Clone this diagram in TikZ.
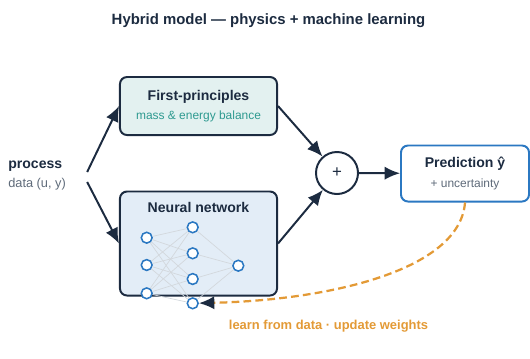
\documentclass[tikz,border=0pt]{standalone}
\usepackage{fontspec}
\setmainfont{Liberation Sans}
\usepackage{xcolor}
\usetikzlibrary{positioning, arrows.meta, calc}
\definecolor{navycolor}{HTML}{1C2B40}
\definecolor{tealtext}{HTML}{2E9A90}
\definecolor{grytext}{HTML}{5F6B7A}
\definecolor{fpfill}{HTML}{E3F1F0}
\definecolor{nnfill}{HTML}{E3EDF7}
\definecolor{neuroncolor}{HTML}{2B78C2}
\definecolor{wirecolor}{HTML}{D3D8DD}
\definecolor{learncolor}{HTML}{E39A36}
\newcommand{\subtxt}[1]{{\fontsize{8.5}{10}\selectfont #1}}

\begin{document}
\begin{tikzpicture}[
    x=0.025cm, y=-0.025cm,
    % Node styles
    boxnode/.style={
        rectangle, rounded corners=5pt,
        draw=navycolor, line width=1.4pt,
        align=center, text=navycolor,
        font=\fontsize{10}{14}\selectfont
    },
    fpnode/.style={
        boxnode, fill=fpfill,
        minimum width=3.925cm, minimum height=1.45cm
    },
    nnnode/.style={
        boxnode, fill=nnfill,
        minimum width=3.925cm, minimum height=2.6cm
    },
    prednode/.style={
        boxnode, draw=neuroncolor, fill=white,
        minimum width=3.2cm, minimum height=1.4cm
    },
    sumnode/.style={
        circle, draw=navycolor, fill=white, line width=1.4pt,
        minimum size=1.05cm, inner sep=0pt,
        font=\fontsize{12}{14}\selectfont, text=navycolor
    },
    neuron/.style={
        circle, draw=neuroncolor, fill=white, line width=1.1pt,
        minimum size=0.27cm, inner sep=0pt
    },
    % Edge styles
    mainedge/.style={
        -{Latex[length=11pt, width=9.5pt]}, line width=1.4pt, navycolor
    },
    wire/.style={
        wirecolor, line width=0.5pt
    },
    feedback/.style={
        -{Latex[length=11pt, width=9.5pt, color=navycolor]},
        learncolor, line width=1.6pt, dash pattern=on 5.5pt off 3pt
    },
    % Label styles
    annot/.style={
        font=\bfseries\fontsize{9.2}{11}\selectfont, text=learncolor
    }
]
\useasboundingbox (0,0) rectangle (530,358);

% ============ TITLE ============
\node[font=\bfseries\fontsize{10.6}{12}\selectfont, text=navycolor] (title) at (268.5,21) {Hybrid model --- physics + machine learning};

% ============ INPUT ============
\node[anchor=west, align=left, inner sep=0pt, text=navycolor] (proc) at (8,175.5) {%
    \textbf{process}\\[1pt]
    {\fontsize{9.1}{11}\selectfont\color{grytext}data (u, y)}};

% ============ MODEL BOXES ============
\node[fpnode] (fp) at (198.5,106) {%
    \textbf{First-principles}\\
    \subtxt{\color{tealtext}mass \& energy balance}};

\node[nnnode] (nn) at (198.5,243.5) {};
\node[font=\bfseries\fontsize{10}{12}\selectfont, text=navycolor] (nntitle) at (198.5,207.5) {Neural network};

% Neurons
\node[neuron] (n11) at (146.7,237.7) {};
\node[neuron] (n12) at (146.7,265) {};
\node[neuron] (n13) at (146.7,293.3) {};

\node[neuron] (n21) at (192.7,227.3) {};
\node[neuron] (n22) at (192.7,253.3) {};
\node[neuron] (n23) at (192.7,279) {};
\node[neuron] (n24) at (192.7,303.3) {};

\node[neuron] (n31) at (238.3,265.7) {};

% Wires
\draw[wire] (n11) -- (n21) (n11) -- (n22) (n11) -- (n23) (n11) -- (n24);
\draw[wire] (n12) -- (n21) (n12) -- (n22) (n12) -- (n23) (n12) -- (n24);
\draw[wire] (n13) -- (n21) (n13) -- (n22) (n13) -- (n23) (n13) -- (n24);
\draw[wire] (n21) -- (n31) (n22) -- (n31) (n23) -- (n31) (n24) -- (n31);

% ============ COMBINER + OUTPUT ============
\node[sumnode] (sum) at (337,173) {+};

\node[prednode] (pred) at (465,173.5) {%
    \textbf{Prediction ŷ}\\
    \subtxt{\color{grytext}+ uncertainty}};

% ============ EDGES ============
\draw[mainedge] ($(proc.east)+(21,-3.5)$) -- (fp.west);
\draw[mainedge] ($(proc.east)+(21,6.5)$) -- (nn.west);
\draw[mainedge] (fp.east) -- (sum);
\draw[mainedge] (nn.east) -- (sum);
\draw[mainedge] (sum) -- (pred);

% ============ FEEDBACK ============
\draw[feedback] (pred.south) .. controls (460,270) and (330,300) .. (n24);
\node[annot] (learn) at (328.5,326) {learn from data · update weights};

\end{tikzpicture}
\end{document}
